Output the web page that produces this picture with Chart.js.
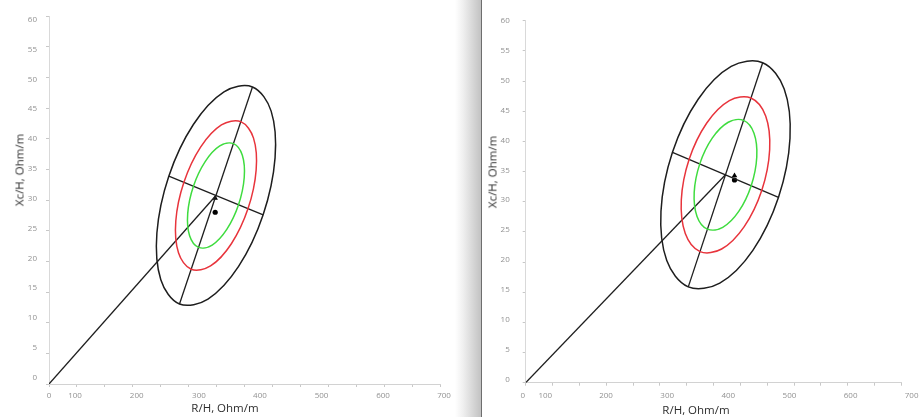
<!DOCTYPE html>
<html lang="en">
<head>
<meta charset="UTF-8">
<title>R/H - Xc/H ellipses</title>
<script src="https://cdn.jsdelivr.net/npm/chart.js"></script>
<style>
  body { margin: 0; background: #fff; font-family: "Open Sans", Arial, sans-serif; }
  .stage { position: relative; width: 923px; height: 417px; overflow: hidden; background: #fff; }
  canvas { position: absolute; top: 0; }
  #left { left: 0; }
  #right { left: 482px; }
  /* page shadow between the two pictures */
  .shade { position: absolute; left: 455px; top: 0; width: 26px; height: 417px;
           background: linear-gradient(to right, #ffffff, #f0f0f0 30%, #c2c2c2); }
  .edge { position: absolute; left: 481px; top: 0; width: 1px; height: 417px; background: #6e6e6e; }
  .title { position: absolute; font-size: 11.5px; color: #2e2e2e; white-space: nowrap;
           transform: translate(-50%, -50%); }
  .title.v { transform: translate(-50%, -50%) rotate(-90deg); }
</style>
</head>
<body>
<div class="stage">
  <canvas id="left" width="455" height="417"></canvas>
  <div class="shade"></div>
  <div class="edge"></div>
  <canvas id="right" width="441" height="417"></canvas>
  <div class="title v" style="left:19px; top:170px;">Xc/H, Ohm/m</div>
  <div class="title" style="left:225px; top:407px;">R/H, Ohm/m</div>
  <div class="title v" style="left:492px; top:172px;">Xc/H, Ohm/m</div>
  <div class="title" style="left:696px; top:409px;">R/H, Ohm/m</div>
</div>

<script>
// tick labels of the R/H axis and where they sit on it (they do not line up with the tick marks)
const X_LABELS = ['0', '100', '200', '300', '400', '500', '600', '700'];
const LEFT_X_LABEL_AT = [0, 46.5, 156.7, 268, 377, 487, 597, 706];
const RIGHT_X_LABEL_AT = [-5.5, 36.4, 149.6, 263.6, 377.4, 491.3, 605.3, 719];
// tick labels of the Xc/H axis
const Y_LABELS = [0, 5, 10, 15, 20, 25, 30, 35, 40, 45, 50, 55, 60];

// left picture: three ellipses, 12 points each
const LEFT_BLACK = [[363.6, 48.43], [397.0, 44.49], [404.0, 36.86], [382.7, 27.59], [338.8, 19.17], [284.1, 13.85],
                    [233.2, 13.05], [199.8, 17.00], [192.8, 24.62], [214.1, 33.89], [258.0, 42.31], [312.7, 47.64]];
const LEFT_RED = [[342.7, 42.77], [365.5, 40.09], [370.2, 34.90], [355.7, 28.60], [325.9, 22.87], [288.7, 19.25],
                  [254.1, 18.71], [231.4, 21.39], [226.6, 26.58], [241.1, 32.88], [270.9, 38.61], [308.1, 42.23]];
const LEFT_GREEN = [[329.6, 39.20], [345.5, 37.31], [348.9, 33.66], [338.7, 29.23], [317.7, 25.21], [291.6, 22.66],
                    [267.2, 22.28], [251.3, 24.17], [247.9, 27.82], [258.1, 32.25], [279.1, 36.27], [305.2, 38.82]];
const LEFT_MAJOR = [[233.2, 13.05], [363.6, 48.43]];
const LEFT_MINOR = [[214.1, 33.89], [382.7, 27.59]];
const LEFT_RADIAL = [[0, 0], [298.4, 30.74]];
const LEFT_TRIANGLE = [297, 30.3];
const LEFT_DOT = [297, 28.0];

// right picture
const RIGHT_BLACK = [[441.5, 53.04], [481.6, 48.69], [492.4, 40.52], [471.0, 30.73], [423.2, 21.94], [361.6, 16.51],
                     [302.9, 15.88], [262.8, 20.24], [252.0, 28.40], [273.4, 38.19], [321.3, 46.98], [382.8, 52.42]];
const RIGHT_RED = [[419.6, 47.19], [447.1, 44.20], [454.5, 38.61], [439.9, 31.91], [407.1, 25.88], [365.0, 22.16],
                   [324.8, 21.73], [297.3, 24.72], [289.9, 30.31], [304.5, 37.02], [337.3, 43.04], [379.4, 46.76]];
const RIGHT_GREEN = [[405.8, 43.47], [425.3, 41.36], [430.5, 37.40], [420.1, 32.65], [396.9, 28.39], [367.1, 25.75],
                     [338.6, 25.45], [319.2, 27.56], [313.9, 31.52], [324.3, 36.27], [347.5, 40.53], [377.3, 43.17]];
const RIGHT_MAJOR = [[302.9, 15.88], [441.5, 53.04]];
const RIGHT_MINOR = [[273.4, 38.19], [471.0, 30.73]];
const RIGHT_RADIAL = [[0, 0], [372.2, 34.46]];
const RIGHT_TRIANGLE = [389, 34.3];
const RIGHT_DOT = [389, 33.6];

const BLACK = '#1e1e1e';
const RED = '#e8343c';
const GREEN = '#3fdc3f';

const toXY = pts => pts.map(p => ({ x: p[0], y: p[1] }));

// closed smooth curve: one extra point on each end so the spline has neighbours,
// the two extra segments are left transparent
function ring(points, color) {
    const n = points.length;
    const wrapped = [points[n - 1], ...points, points[0], points[1]];
    const last = wrapped.length - 1;
    return {
        data: toXY(wrapped),
        showLine: true,
        borderColor: color,
        borderWidth: 1.5,
        pointRadius: 0,
        tension: 0.35,
        segment: {
            borderColor: c => (c.p0DataIndex === 0 || c.p1DataIndex === last) ? 'rgba(0,0,0,0)' : color
        }
    };
}

function line(points) {
    return { data: toXY(points), showLine: true, borderColor: BLACK, borderWidth: 1.3, pointRadius: 0, tension: 0 };
}

function marker(p, style, r) {
    return { data: toXY([p]), showLine: false, pointStyle: style, pointRadius: r,
             backgroundColor: '#000', borderColor: '#000', borderWidth: 0 };
}

function makeChart(id, sets, cfg) {
    new Chart(document.getElementById(id), {
        type: 'scatter',
        data: { datasets: sets },
        options: {
            responsive: false,
            animation: false,
            layout: { autoPadding: false, padding: cfg.padding },
            plugins: { legend: { display: false }, tooltip: { enabled: false } },
            scales: {
                x: {
                    type: 'linear', position: 'bottom', weight: 0, min: 0, max: 700,
                    ticks: { display: false, stepSize: 50 },
                    grid: { drawOnChartArea: false, tickLength: 3, color: '#c8c8c8' },
                    border: { color: '#d2d2d2' },
                    afterFit: s => { s.height = 3; }
                },
                xLab: {
                    type: 'linear', axis: 'x', position: 'bottom', weight: 1, min: 0, max: 700,
                    grid: { display: false, drawTicks: false },
                    border: { display: false },
                    afterBuildTicks: s => { s.ticks = cfg.xLabelAt.map(v => ({ value: v })); },
                    ticks: {
                        autoSkip: false, maxRotation: 0, minRotation: 0, padding: cfg.xPad,
                        color: '#929292', font: { family: 'Open Sans', size: 8 },
                        callback: (v, i) => X_LABELS[i]
                    },
                    afterFit: s => { s.height = cfg.xLabHeight; }
                },
                y: {
                    type: 'linear', position: 'left', weight: 0, min: 0, max: 60,
                    ticks: { display: false, stepSize: 5 },
                    grid: { drawOnChartArea: false, tickLength: 3, color: '#c8c8c8' },
                    border: { color: '#d9d9d9' },
                    afterFit: s => { s.width = 3; }
                },
                yLab: {
                    type: 'linear', axis: 'y', position: 'left', weight: 1,
                    min: cfg.yLabRange[0], max: cfg.yLabRange[1],
                    grid: { display: false, drawTicks: false },
                    border: { display: false },
                    afterBuildTicks: s => { s.ticks = Y_LABELS.map(v => ({ value: v })); },
                    ticks: {
                        autoSkip: false, padding: cfg.yPad,
                        color: '#929292', font: { family: 'Open Sans', size: 8 },
                        callback: (v, i) => String(Y_LABELS[i])
                    },
                    afterFit: s => { s.width = cfg.yLabWidth; }
                }
            }
        }
    });
}

makeChart('left', [
    ring(LEFT_BLACK, BLACK),
    ring(LEFT_RED, RED),
    ring(LEFT_GREEN, GREEN),
    line(LEFT_MAJOR),
    line(LEFT_MINOR),
    line(LEFT_RADIAL),
    marker(LEFT_TRIANGLE, 'triangle', 3.2),
    marker(LEFT_DOT, 'circle', 2.6)
], {
    padding: { left: 0, top: 16, right: 14.3, bottom: 0 },
    xLabelAt: LEFT_X_LABEL_AT, xLabHeight: 30, xPad: 4,
    yLabRange: [-1.06, 60.62], yLabWidth: 46, yPad: 9
});

makeChart('right', [
    ring(RIGHT_BLACK, BLACK),
    ring(RIGHT_RED, RED),
    ring(RIGHT_GREEN, GREEN),
    line(RIGHT_MAJOR),
    line(RIGHT_MINOR),
    line(RIGHT_RADIAL),
    marker(RIGHT_TRIANGLE, 'triangle', 3.2),
    marker(RIGHT_DOT, 'circle', 2.6)
], {
    padding: { left: 0, top: 20.7, right: 18.3, bottom: 0 },
    xLabelAt: RIGHT_X_LABEL_AT, xLabHeight: 31.3, xPad: 5,
    yLabRange: [-0.57, 60.05], yLabWidth: 40.7, yPad: 13
});
</script>
</body>
</html>
